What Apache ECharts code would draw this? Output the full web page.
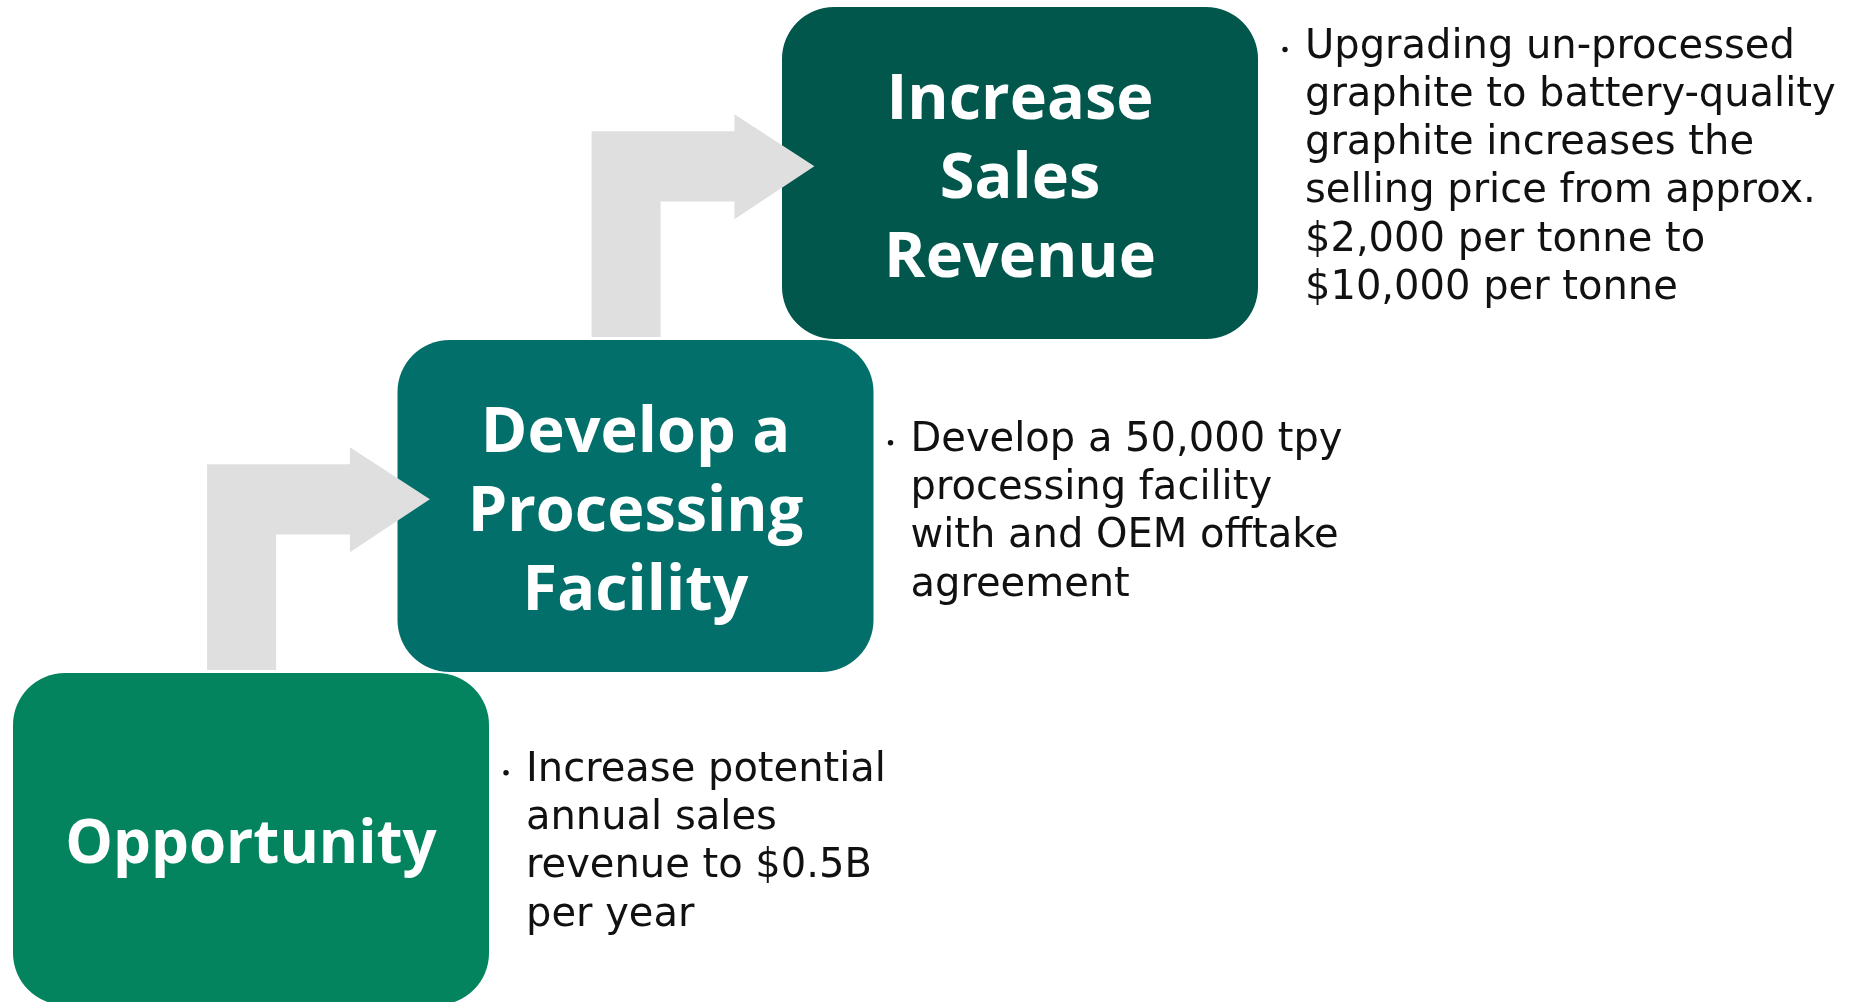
<!DOCTYPE html>
<html>
<head>
<meta charset="utf-8">
<script src="https://cdn.jsdelivr.net/npm/echarts@6/dist/echarts.min.js"></script>
<style>
  html, body { margin: 0; padding: 0; background: #fff; }
  #main { width: 1852px; height: 1002px; }
</style>
</head>
<body>
<div id="main"></div>
<script>
// steps of the staircase, bottom to top
var stepTitles = ['Opportunity', 'Develop a\nProcessing\nFacility', 'Increase\nSales\nRevenue'];
var stepNotes = [
    ['Increase potential', 'annual sales', 'revenue to $0.5B', 'per year'],
    ['Develop a 50,000 tpy', 'processing facility', 'with and OEM offtake', 'agreement'],
    ['Upgrading un-processed', 'graphite to battery-quality', 'graphite increases the',
     'selling price from approx.', '$2,000 per tonne to', '$10,000 per tonne']
];
// step column / level of each box
var stepCol = [0, 1, 2];
var stepLevel = [0, 1, 2];

var boxColors = ['#03845F', '#026F6A', '#02574D'];
var arrowColor = '#DFDFDF';
var noteGap = [37, 37, 47];   // distance from box edge to note text
var noteShift = [4, 7, -5];   // vertical nudge of the note block
var titleFont = ['bold 60px "Open Sans"', 'bold 63px "Open Sans"', 'bold 63px "Open Sans"'];

// one step in pixels
var STEP_X = 384.5, STEP_Y = 333;

var chart = echarts.init(document.getElementById('main'));

function renderStep(params, api) {
    var i = params.dataIndex;
    var p = api.coord([api.value(0), api.value(1)]); // bottom-left corner of box
    var unit = api.size([1, 1]);
    var W = unit[0] * 1.238, H = unit[1] * 0.997;
    var bx = p[0], by = p[1] - H;
    var cy = by + H / 2;
    var children = [];

    children.push({
        type: 'rect',
        shape: { x: bx, y: by, width: W, height: H, r: 52 },
        style: { fill: boxColors[i] }
    });
    children.push({
        type: 'text',
        x: bx + W / 2,
        y: cy + 7,
        style: {
            text: stepTitles[i],
            fill: '#fff',
            font: titleFont[i],
            lineHeight: 79,
            align: 'center',
            verticalAlign: 'middle'
        }
    });

    // note with bullet
    var notes = stepNotes[i];
    var lh = 48.2;
    var noteCy = cy + noteShift[i];
    children.push({
        type: 'text',
        x: bx + W + noteGap[i],
        y: noteCy,
        style: {
            text: notes.join('\n'),
            fill: '#111',
            font: '40px "DejaVu Sans"',
            lineHeight: lh,
            align: 'left',
            verticalAlign: 'middle'
        }
    });
    children.push({
        type: 'circle',
        shape: { cx: bx + W + noteGap[i] - 20, cy: noteCy - (notes.length - 1) / 2 * lh + 2, r: 2.7 },
        style: { fill: '#111' }
    });

    // bent arrow coming up from the previous step
    if (i > 0) {
        var sl = bx - W * 0.4, sw = W * 0.145;
        var barTop = by + H * 0.374, barBot = by + H * 0.586;
        var headL = bx - W * 0.1, tip = bx + W * 0.068;
        var headTop = by + H * 0.323, headBot = by + H * 0.639;
        var mid = (barTop + barBot) / 2;
        var bottom = by + H - 2;
        children.push({
            type: 'polygon',
            shape: {
                points: [
                    [sl, bottom], [sl, barTop], [headL, barTop], [headL, headTop],
                    [tip, mid], [headL, headBot], [headL, barBot], [sl + sw, barBot],
                    [sl + sw, bottom]
                ]
            },
            style: { fill: arrowColor }
        });
    }
    return { type: 'group', children: children };
}

chart.setOption({
    animation: false,
    grid: { left: 0, right: 0, top: 0, bottom: 0 },
    xAxis: {
        type: 'value', show: false,
        min: -13 / STEP_X, max: (1852 - 13) / STEP_X
    },
    yAxis: {
        type: 'value', show: false,
        min: 3 / STEP_Y, max: (1002 + 3) / STEP_Y
    },
    series: [{
        type: 'custom',
        renderItem: renderStep,
        data: stepCol.map(function (c, k) { return [c, stepLevel[k]]; })
    }]
});
</script>
</body>
</html>
